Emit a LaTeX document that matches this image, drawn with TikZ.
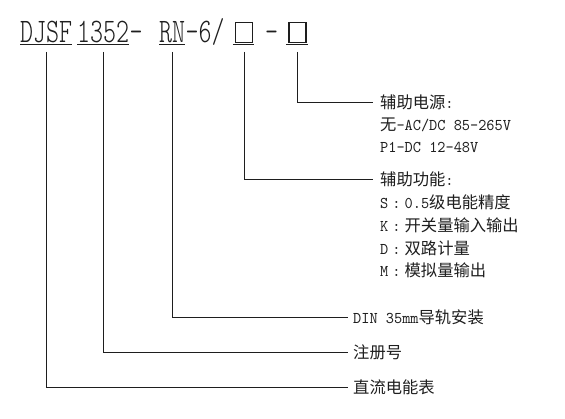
\documentclass[tikz,border=0pt]{standalone}
\usepackage{fontspec}
\newfontfamily\cjk{Noto Sans CJK SC}
\newfontfamily\lmlab[FakeStretch=0.95]{lmmono10-regular.otf}
\newfontfamily\lmtitle[FakeStretch=0.72]{lmmonolt10-regular.otf}
\newcommand\zh[1]{{\cjk\fontsize{16.3pt}{18pt}\selectfont #1}}
\newcommand\fcolon{\makebox[16.3pt]{:}}
\definecolor{ink}{RGB}{30,30,30}
\begin{document}
\begin{tikzpicture}[x=1pt,y=-1pt,
  titletext/.style={anchor=base west, inner sep=0pt, text=ink,
    font=\lmtitle\fontsize{34.4pt}{36pt}\selectfont},
  lbl/.style={anchor=west, inner sep=0pt, text height=12pt, text depth=0pt, text=ink,
    font=\lmlab\fontsize{16.4pt}{18pt}\selectfont},
  conn/.style={draw=ink, line width=1pt},
  ubox/.style={draw=ink, line width=1.2pt, minimum width=17pt, minimum height=20pt, inner sep=0pt}]
\fill[white] (0,0) rectangle (565,419);
\useasboundingbox (0,0) rectangle (565,419);
\coordinate (ul) at (0,44.5);
\coordinate (top) at (0,52);
% title
\node[titletext] (djsf) at (20,43) {DJSF};
\node[titletext] (n1352) at (77,43) {1352};
\node[titletext] (d1) at (n1352.base east) {-};
\node[titletext] (rn) at (159,43) {RN};
\node[titletext] (r6) at (rn.base east) {-6/};
\node[ubox] (box1) at (244,32.5) {};
\node[titletext] (d2) at (265,43) {-};
\node[ubox] (box2) at (297.5,32.5) {};
% underlines
\draw[conn] (djsf.west |- ul) -- (djsf.east |- ul);
\draw[conn] (n1352.west |- ul) -- (n1352.east |- ul);
\draw[conn] (rn.west |- ul) -- (rn.east |- ul);
\draw[conn] ([xshift=-2pt]box1.west |- ul) -- ([xshift=1pt]box1.east |- ul);
\draw[conn] ([xshift=-2pt]box2.west |- ul) -- ([xshift=1pt]box2.east |- ul);
% labels
\node[lbl] (l1) at (380,103) {\zh{辅助电源}:};
\node[lbl] (l1b) at (380,125) {\zh{无}-AC/DC 85-265V};
\node[lbl] (l1c) at (380,147) {P1-DC 12-48V};
\node[lbl] (l2) at (380,180) {\zh{辅助功能}:};
\node[lbl] (l2a) at (380,202.75) {S\fcolon 0.5\zh{级电能精度}};
\node[lbl] (l2b) at (380,225.5) {K\fcolon\zh{开关量输入输出}};
\node[lbl] (l2c) at (380,248.25) {D\fcolon\zh{双路计量}};
\node[lbl] (l2d) at (380,271) {M\fcolon\zh{模拟量输出}};
\node[lbl] (l3) at (353,318) {DIN 35mm\zh{导轨安装}};
\node[lbl] (l4) at (353,353) {\zh{注册号}};
\node[lbl] (l5) at (353,388) {\zh{直流电能表}};
% connectors
\draw[conn] (box2.south |- top) |- ([xshift=-7pt]l1.west);
\draw[conn] (box1.south |- top) |- ([xshift=-7pt]l2.west);
\draw[conn] (rn.south |- top) |- ([xshift=-5pt]l3.west);
\draw[conn] (n1352.south |- top) |- ([xshift=-5pt]l4.west);
\draw[conn] (djsf.south |- top) |- ([xshift=-5pt]l5.west);
\end{tikzpicture}
\end{document}
